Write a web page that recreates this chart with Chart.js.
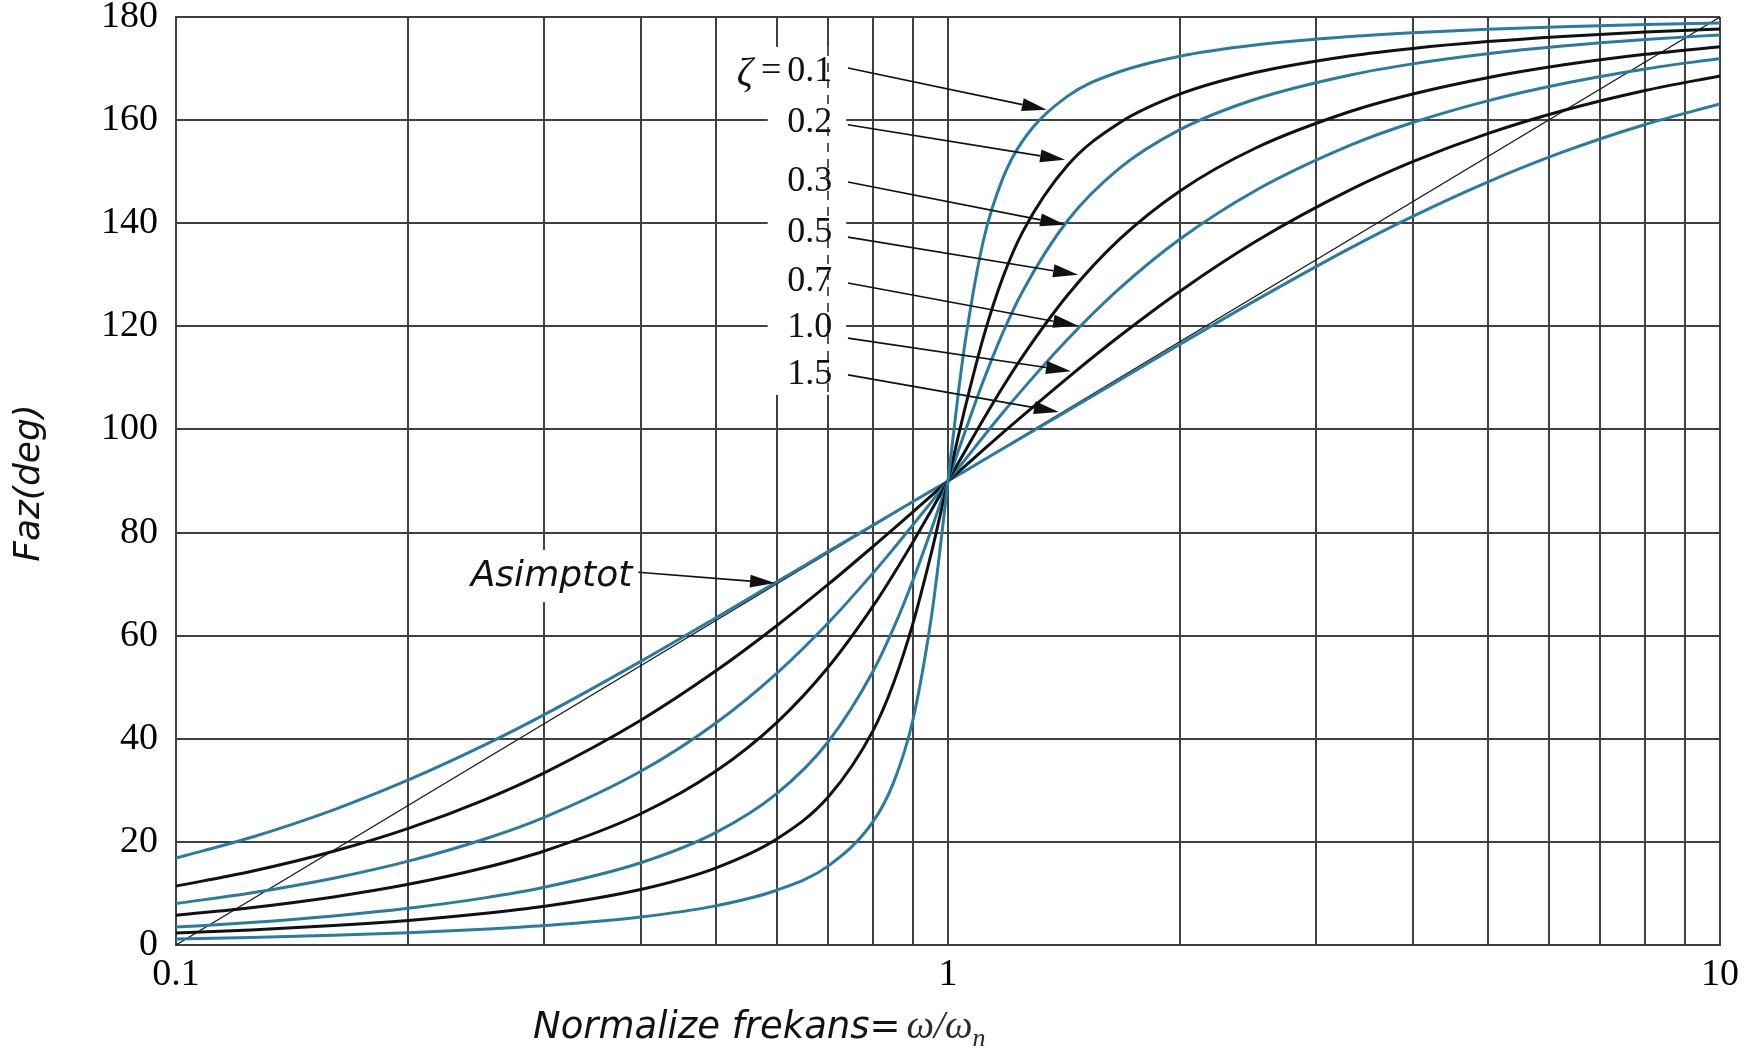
<!DOCTYPE html>
<html>
<head>
<meta charset="utf-8">
<title>Faz - Normalize frekans</title>
<script src="https://cdn.jsdelivr.net/npm/chart.js@4.4.1/dist/chart.umd.min.js"></script>
<style>
  html, body { margin: 0; padding: 0; background: #fff; }
  canvas { display: block; }
</style>
</head>
<body>
<canvas id="phaseChart" width="1757" height="1058"></canvas>
<script>
// normalised frequency ω/ωn
const freq = [0.1, 0.125, 0.16, 0.2, 0.25, 0.3, 0.4, 0.5, 0.6, 0.7, 0.8, 0.85, 0.9, 0.95, 0.97, 1,
  1.031, 1.053, 1.111, 1.176, 1.25, 1.429, 1.667, 2, 2.5, 3.333, 4, 5, 6.25, 8, 10];

// phase (deg) for each damping ratio
const phaseZeta01 = [1.16, 1.45, 1.88, 2.39, 3.05, 3.77, 5.44, 7.59, 10.62, 15.35, 23.96, 31.49, 43.45, 62.84, 73.06, 90,
  106.94, 117.16, 136.55, 148.51, 156.04, 164.65, 169.38, 172.41, 174.56, 176.23, 176.95, 177.61, 178.12, 178.55, 178.84];
const phaseZeta02 = [2.31, 2.91, 3.76, 4.76, 6.09, 7.51, 10.78, 14.93, 20.56, 28.77, 41.63, 50.78, 62.18, 75.61, 81.34, 90,
  98.66, 104.39, 117.82, 129.22, 138.37, 151.23, 159.44, 165.07, 169.22, 172.49, 173.91, 175.24, 176.24, 177.09, 177.69];
const phaseZeta03 = [3.47, 4.36, 5.63, 7.13, 9.09, 11.19, 15.95, 21.80, 29.36, 39.47, 53.13, 61.45, 70.62, 80.29, 84.20, 90,
  95.80, 99.71, 109.38, 118.55, 126.87, 140.53, 150.64, 158.20, 164.05, 168.81, 170.91, 172.87, 174.37, 175.64, 176.53];
const phaseZeta05 = [5.77, 7.24, 9.33, 11.77, 14.93, 18.24, 25.46, 33.69, 43.15, 53.93, 65.77, 71.92, 78.08, 84.14, 86.51, 90,
  93.49, 95.86, 101.92, 108.08, 114.23, 126.07, 136.85, 146.31, 154.54, 161.76, 165.07, 168.23, 170.67, 172.76, 174.23];
const phaseZeta07 = [8.05, 10.08, 12.95, 16.26, 20.47, 24.77, 33.69, 43.02, 52.70, 62.51, 72.18, 76.87, 81.42, 85.81, 87.51, 90,
  92.49, 94.19, 98.58, 103.13, 107.82, 117.49, 127.30, 136.98, 146.31, 155.23, 159.53, 163.74, 167.05, 169.92, 171.95];
const phaseZeta10 = [11.42, 14.25, 18.18, 22.62, 28.07, 33.40, 43.60, 53.13, 61.93, 69.98, 77.32, 80.73, 83.97, 87.06, 88.26, 90,
  91.74, 92.94, 96.03, 99.27, 102.68, 110.02, 118.07, 126.87, 136.40, 146.60, 151.93, 157.38, 161.82, 165.75, 168.58];
const phaseZeta15 = [16.86, 20.85, 26.22, 32.01, 38.66, 44.68, 55.01, 63.43, 70.43, 76.35, 81.47, 83.79, 85.97, 88.04, 88.84, 90,
  91.16, 91.96, 94.03, 96.21, 98.53, 103.65, 109.57, 116.57, 124.99, 135.32, 141.34, 147.99, 153.78, 159.15, 163.14];

const zetaLabels = ['0.1', '0.2', '0.3', '0.5', '0.7', '1.0', '1.5'];
const phaseSeries = [phaseZeta01, phaseZeta02, phaseZeta03, phaseZeta05, phaseZeta07, phaseZeta10, phaseZeta15];

// asymptote: straight line on the log axis
const asymptoteFreq = [0.1, 10];
const asymptotePhase = [0, 180];

// axis ticks
const xGridValues = [0.1, 0.2, 0.3, 0.4, 0.5, 0.6, 0.7, 0.8, 0.9, 1, 2, 3, 4, 5, 6, 7, 8, 9, 10];
const xTickValues = [0.1, 1, 10];
const xTickLabels = ['0.1', '1', '10'];
const yTicks = [0, 20, 40, 60, 80, 100, 120, 140, 160, 180];

const BLUE = '#2a7b9e';
const BLACK = '#111111';
const GRID = '#404040';
const SERIF = '"Liberation Serif", "Times New Roman", serif';
const SANS = '"DejaVu Sans", Verdana, sans-serif';

// callout placement, in axis units (frequency, degrees)
const zetaCallouts = {
  textRight: 0.708,
  textY: [169.5, 159.6, 148.0, 138.1, 128.6, 119.7, 110.6],
  arrowFromX: 0.742,
  arrowFromY: [170.1, 159.1, 148.0, 137.3, 128.4, 117.7, 110.6],
  arrowToX: [1.343, 1.418, 1.418, 1.474, 1.474, 1.443, 1.392],
  arrowToY: [162.0, 152.3, 139.7, 130.0, 120.1, 111.3, 103.4],
  mask: { x0: 0.584, x1: 0.738, y0: 174.2, y1: 106.7 }
};
const asymptoteCallout = {
  text: 'Asimptot',
  textRight: 0.390, textY: 71.4,
  from: [0.397, 72.3], to: [0.597, 70.2],
  mask: { x0: 0.2285, x1: 0.3908, y0: 76.6, y1: 66.5 }
};

function drawArrow(ctx, x0, y0, x1, y1) {
  const ang = Math.atan2(y1 - y0, x1 - x0);
  const head = 25, half = 6.5;
  const bx = x1 - head * Math.cos(ang), by = y1 - head * Math.sin(ang);
  ctx.beginPath();
  ctx.moveTo(x0, y0);
  ctx.lineTo(bx, by);
  ctx.stroke();
  ctx.beginPath();
  ctx.moveTo(x1, y1);
  ctx.lineTo(bx - half * Math.sin(ang), by + half * Math.cos(ang));
  ctx.lineTo(bx + half * Math.sin(ang), by - half * Math.cos(ang));
  ctx.closePath();
  ctx.fill();
}

const whiteBackground = {
  id: 'whiteBackground',
  beforeDraw(chart) {
    const { ctx, width, height } = chart;
    ctx.save();
    ctx.fillStyle = '#fff';
    ctx.fillRect(0, 0, width, height);
    ctx.restore();
  }
};

const callouts = {
  id: 'callouts',
  beforeDatasetsDraw(chart) {
    const { ctx, scales: { x, y } } = chart;
    ctx.save();
    ctx.fillStyle = '#fff';
    for (const m of [zetaCallouts.mask, asymptoteCallout.mask]) {
      const px0 = x.getPixelForValue(m.x0), px1 = x.getPixelForValue(m.x1);
      const py0 = y.getPixelForValue(m.y0), py1 = y.getPixelForValue(m.y1);
      ctx.fillRect(px0, py0, px1 - px0, py1 - py0);
    }
    // the 0.7 grid line shows through the label column as a dashed stroke
    const gx = Math.round(x.getPixelForValue(0.7));
    ctx.strokeStyle = '#555';
    ctx.lineWidth = 2;
    ctx.setLineDash([9, 7]);
    ctx.beginPath();
    ctx.moveTo(gx, y.getPixelForValue(zetaCallouts.mask.y0));
    ctx.lineTo(gx, y.getPixelForValue(zetaCallouts.mask.y1));
    ctx.stroke();
    ctx.restore();
  },
  afterDatasetsDraw(chart) {
    const { ctx, scales: { x, y } } = chart;
    ctx.save();
    ctx.fillStyle = BLACK;
    ctx.strokeStyle = BLACK;
    ctx.lineWidth = 1.7;
    ctx.textBaseline = 'middle';

    const xr = x.getPixelForValue(zetaCallouts.textRight);
    zetaLabels.forEach((lab, i) => {
      const ty = y.getPixelForValue(zetaCallouts.textY[i]);
      ctx.font = `36px ${SERIF}`;
      ctx.textAlign = 'right';
      ctx.fillText(lab, xr, ty);
      if (i === 0) {
        const w = ctx.measureText(lab).width;
        ctx.fillText('=', xr - w - 6, ty);
        const we = ctx.measureText('=').width;
        ctx.font = `italic 40px ${SERIF}`;
        ctx.fillText('ζ', xr - w - we - 14, ty + 3);
      }
      drawArrow(ctx,
        x.getPixelForValue(zetaCallouts.arrowFromX), y.getPixelForValue(zetaCallouts.arrowFromY[i]),
        x.getPixelForValue(zetaCallouts.arrowToX[i]), y.getPixelForValue(zetaCallouts.arrowToY[i]));
    });

    ctx.font = `italic 36px ${SANS}`;
    ctx.textAlign = 'right';
    ctx.fillText(asymptoteCallout.text,
      x.getPixelForValue(asymptoteCallout.textRight), y.getPixelForValue(asymptoteCallout.textY));
    drawArrow(ctx,
      x.getPixelForValue(asymptoteCallout.from[0]), y.getPixelForValue(asymptoteCallout.from[1]),
      x.getPixelForValue(asymptoteCallout.to[0]), y.getPixelForValue(asymptoteCallout.to[1]));
    ctx.restore();
  }
};

// axis titles: mixed fonts, so drawn by hand
const axisTitles = {
  id: 'axisTitles',
  afterDraw(chart) {
    const { ctx, chartArea } = chart;
    ctx.save();
    ctx.fillStyle = BLACK;
    ctx.textBaseline = 'alphabetic';
    ctx.textAlign = 'left';

    const base = 1038;
    let cx = 533;
    ctx.font = `italic 37px ${SANS}`;
    ctx.fillText('Normalize frekans=', cx, base);
    cx += ctx.measureText('Normalize frekans=').width + 6;
    ctx.fillStyle = '#2a2a2a';
    ctx.font = `italic 39px ${SERIF}`;
    ctx.fillText('ω/ω', cx, base);
    cx += ctx.measureText('ω/ω').width;
    ctx.font = `italic 26px ${SERIF}`;
    ctx.fillText('n', cx, base + 8);

    ctx.fillStyle = BLACK;
    ctx.translate(30, (chartArea.top + chartArea.bottom) / 2 + 2);
    ctx.rotate(-Math.PI / 2);
    ctx.textAlign = 'center';
    ctx.textBaseline = 'middle';
    ctx.font = `italic 36px ${SANS}`;
    ctx.fillText('Faz(deg)', 0, 0);
    ctx.restore();
  }
};

const datasets = phaseSeries.map((vals, i) => ({
  label: 'ζ = ' + zetaLabels[i],
  data: freq.map((f, j) => ({ x: f, y: vals[j] })),
  borderColor: i % 2 === 0 ? BLUE : BLACK,
  borderWidth: 3,
  pointRadius: 0,
  fill: false,
  cubicInterpolationMode: 'monotone'
}));
datasets.push({
  label: 'Asimptot',
  data: asymptoteFreq.map((f, j) => ({ x: f, y: asymptotePhase[j] })),
  borderColor: '#1a1a1a',
  borderWidth: 1.2,
  pointRadius: 0,
  fill: false,
  tension: 0
});

new Chart(document.getElementById('phaseChart'), {
  type: 'line',
  data: { datasets },
  options: {
    responsive: false,
    animation: false,
    devicePixelRatio: 1,
    layout: { padding: { top: 17, right: 37, left: 0, bottom: 0 } },
    plugins: {
      legend: { display: false },
      tooltip: { enabled: false }
    },
    scales: {
      x: {
        type: 'logarithmic',
        min: 0.1,
        max: 10,
        afterBuildTicks: (scale) => { scale.ticks = xGridValues.map(v => ({ value: v })); },
        afterFit: (scale) => { scale.height = 113; scale.paddingLeft = 0; scale.paddingRight = 0; },
        grid: { color: GRID, lineWidth: 2, drawTicks: false },
        border: { color: GRID, width: 2 },
        ticks: {
          autoSkip: false,
          maxRotation: 0,
          padding: 7,
          color: '#000',
          font: { family: SERIF, size: 38 },
          callback: (v) => {
            const k = xTickValues.indexOf(v);
            return k >= 0 ? xTickLabels[k] : '';
          }
        }
      },
      y: {
        min: 0,
        max: 180,
        afterBuildTicks: (scale) => { scale.ticks = yTicks.map(v => ({ value: v })); },
        afterFit: (scale) => { scale.width = 176; scale.paddingTop = 0; scale.paddingBottom = 0; },
        grid: { color: GRID, lineWidth: 2, drawTicks: false },
        border: { color: GRID, width: 2 },
        ticks: {
          padding: 18,
          color: '#000',
          font: { family: SERIF, size: 38 }
        }
      }
    }
  },
  plugins: [whiteBackground, callouts, axisTitles]
});
</script>
</body>
</html>
